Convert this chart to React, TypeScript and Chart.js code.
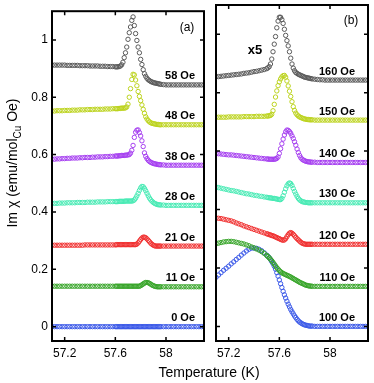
import React, { useEffect, useRef } from "react";
import { Chart, registerables } from "chart.js";

Chart.register(...registerables);

const FONT = "'Liberation Sans', Arial, Helvetica, sans-serif";

// Temperature grids (K)
const tempsA = [
  57.10, 57.12, 57.14, 57.16, 57.18, 57.20, 57.22, 57.24, 57.26, 57.28, 57.30, 57.32, 57.34,
  57.36, 57.38, 57.40, 57.42, 57.44, 57.46, 57.48, 57.50, 57.52, 57.54, 57.56, 57.58, 57.60,
  57.61, 57.62, 57.63, 57.64, 57.65, 57.66, 57.67, 57.68, 57.69, 57.70, 57.71, 57.72,
  57.73, 57.74, 57.75, 57.76, 57.77, 57.78, 57.79, 57.80, 57.81, 57.82, 57.83, 57.84,
  57.85, 57.86, 57.87, 57.88, 57.89, 57.90, 57.91, 57.92, 57.93, 57.94, 57.95,
  57.96, 57.98, 58.00, 58.02, 58.04, 58.06, 58.08, 58.10, 58.12, 58.14, 58.16, 58.18,
  58.20, 58.22, 58.24, 58.26, 58.28, 58.30,
];

const tempsB = [
  57.10, 57.12, 57.14, 57.16, 57.18, 57.20, 57.22, 57.24, 57.26, 57.28, 57.30,
  57.32, 57.34, 57.36, 57.38, 57.40, 57.42, 57.44, 57.46, 57.48, 57.50,
  57.51, 57.52, 57.53, 57.54, 57.55, 57.56, 57.57, 57.58, 57.59, 57.60, 57.61, 57.62,
  57.63, 57.64, 57.65, 57.66, 57.67, 57.68, 57.69, 57.70, 57.71, 57.72, 57.73, 57.74,
  57.75, 57.76, 57.77, 57.78, 57.79, 57.80, 57.81, 57.82, 57.83, 57.84, 57.85,
  57.86, 57.88, 57.90, 57.92, 57.94, 57.96, 57.98, 58.00, 58.02, 58.04, 58.06, 58.08,
  58.10, 58.12, 58.14, 58.16, 58.18, 58.20, 58.22, 58.24, 58.26, 58.28, 58.30,
];

// Panel (a) series: Im chi (emu/mol_Cu Oe)
const chiA58 = [
  0.912, 0.912, 0.912, 0.912, 0.912, 0.912, 0.911, 0.911, 0.911, 0.911, 0.911, 0.910, 0.910,
  0.910, 0.910, 0.909, 0.909, 0.909, 0.909, 0.908, 0.908, 0.908, 0.907, 0.907, 0.907, 0.906,
  0.906, 0.906, 0.907, 0.909, 0.913, 0.922, 0.938, 0.955, 0.975, 1.002, 1.025, 1.045,
  1.068, 1.080, 1.050, 1.022, 0.998, 0.975, 0.955, 0.932, 0.914, 0.896, 0.882, 0.873,
  0.866, 0.861, 0.858, 0.855, 0.853, 0.851, 0.850, 0.849, 0.848, 0.847, 0.846,
  0.845, 0.844, 0.843, 0.843, 0.843, 0.843, 0.843, 0.843, 0.843, 0.843, 0.843, 0.843,
  0.843, 0.843, 0.843, 0.843, 0.843, 0.843,
];
const chiA48 = [
  0.752, 0.752, 0.753, 0.753, 0.753, 0.754, 0.754, 0.754, 0.755, 0.755, 0.755, 0.756, 0.756,
  0.756, 0.757, 0.757, 0.757, 0.758, 0.758, 0.758, 0.758, 0.759, 0.759, 0.759, 0.760, 0.760,
  0.760, 0.760, 0.761, 0.761, 0.762, 0.762, 0.762, 0.763, 0.766, 0.776, 0.800, 0.830,
  0.862, 0.880, 0.878, 0.860, 0.840, 0.820, 0.803, 0.788, 0.773, 0.758, 0.744, 0.732,
  0.724, 0.718, 0.714, 0.711, 0.709, 0.708, 0.707, 0.706, 0.705, 0.705, 0.704,
  0.704, 0.704, 0.704, 0.704, 0.704, 0.704, 0.704, 0.704, 0.704, 0.704, 0.704, 0.704,
  0.704, 0.704, 0.704, 0.704, 0.704, 0.704,
];
const chiA38 = [
  0.584, 0.584, 0.585, 0.585, 0.586, 0.586, 0.587, 0.587, 0.588, 0.588, 0.588, 0.589, 0.589,
  0.590, 0.590, 0.590, 0.591, 0.591, 0.592, 0.592, 0.592, 0.593, 0.593, 0.594, 0.594, 0.595,
  0.595, 0.595, 0.596, 0.596, 0.597, 0.597, 0.597, 0.598, 0.598, 0.599, 0.600, 0.605,
  0.615, 0.632, 0.660, 0.678, 0.685, 0.686, 0.677, 0.665, 0.648, 0.628, 0.606, 0.594,
  0.586, 0.580, 0.576, 0.573, 0.571, 0.569, 0.568, 0.567, 0.566, 0.565, 0.565,
  0.564, 0.564, 0.563, 0.563, 0.563, 0.563, 0.563, 0.563, 0.563, 0.563, 0.563, 0.563,
  0.563, 0.563, 0.563, 0.563, 0.563, 0.563,
];
const chiA28 = [
  0.430, 0.430, 0.430, 0.431, 0.431, 0.431, 0.432, 0.432, 0.432, 0.432, 0.433, 0.433, 0.433,
  0.433, 0.434, 0.434, 0.434, 0.434, 0.435, 0.435, 0.435, 0.435, 0.436, 0.436, 0.436, 0.436,
  0.436, 0.436, 0.437, 0.437, 0.437, 0.437, 0.437, 0.438, 0.438, 0.438, 0.438, 0.438,
  0.438, 0.439, 0.442, 0.448, 0.456, 0.465, 0.475, 0.484, 0.489, 0.488, 0.482, 0.474,
  0.465, 0.456, 0.448, 0.442, 0.437, 0.433, 0.430, 0.428, 0.426, 0.425, 0.425,
  0.424, 0.424, 0.423, 0.423, 0.423, 0.423, 0.423, 0.423, 0.423, 0.423, 0.423, 0.423,
  0.423, 0.423, 0.423, 0.423, 0.423, 0.423,
];
const chiA21 = [
  0.284, 0.284, 0.284, 0.284, 0.284, 0.284, 0.284, 0.284, 0.284, 0.284, 0.284, 0.284, 0.284,
  0.285, 0.285, 0.285, 0.285, 0.285, 0.285, 0.285, 0.285, 0.285, 0.285, 0.285, 0.285, 0.285,
  0.286, 0.286, 0.286, 0.286, 0.286, 0.286, 0.286, 0.286, 0.286, 0.286, 0.286, 0.286,
  0.286, 0.286, 0.286, 0.286, 0.288, 0.292, 0.298, 0.304, 0.309, 0.312, 0.312, 0.310,
  0.306, 0.301, 0.296, 0.291, 0.287, 0.284, 0.282, 0.281, 0.281, 0.281, 0.281,
  0.281, 0.281, 0.281, 0.281, 0.281, 0.281, 0.281, 0.281, 0.281, 0.281, 0.281, 0.281,
  0.281, 0.281, 0.281, 0.281, 0.281, 0.281,
];
const chiA11 = [
  0.141, 0.141, 0.141, 0.141, 0.141, 0.141, 0.141, 0.141, 0.141, 0.141, 0.141, 0.141, 0.141,
  0.141, 0.141, 0.141, 0.141, 0.141, 0.141, 0.141, 0.141, 0.141, 0.141, 0.141, 0.141, 0.141,
  0.141, 0.141, 0.141, 0.141, 0.141, 0.141, 0.141, 0.141, 0.141, 0.141, 0.141, 0.141,
  0.141, 0.141, 0.141, 0.141, 0.141, 0.141, 0.141, 0.143, 0.146, 0.149, 0.152, 0.154,
  0.154, 0.153, 0.151, 0.148, 0.145, 0.143, 0.141, 0.140, 0.139, 0.139, 0.139,
  0.139, 0.139, 0.139, 0.139, 0.139, 0.139, 0.139, 0.139, 0.139, 0.139, 0.139, 0.139,
  0.139, 0.139, 0.139, 0.139, 0.139, 0.139,
];
const chiA0 = [
  0, 0, 0, 0, 0, 0, 0, 0, 0, 0, 0, 0, 0,
  0, 0, 0, 0, 0, 0, 0, 0, 0, 0, 0, 0, 0,
  0, 0, 0, 0, 0, 0, 0, 0, 0, 0, 0, 0,
  0, 0, 0, 0, 0, 0, 0, 0, 0, 0, 0, 0,
  0, 0, 0, 0, 0, 0, 0, 0, 0, 0, 0,
  0, 0, 0, 0, 0, 0, 0, 0, 0, 0, 0, 0,
  0, 0, 0, 0, 0, 0,
];

// Panel (b) series
const chiB160 = [
  0.854, 0.855, 0.856, 0.857, 0.858, 0.859, 0.860, 0.861, 0.862, 0.863, 0.864,
  0.866, 0.867, 0.868, 0.870, 0.872, 0.873, 0.875, 0.877, 0.879, 0.882,
  0.885, 0.889, 0.898, 0.915, 0.940, 0.966, 0.992, 1.022, 1.045, 1.058, 1.058, 1.050,
  1.037, 1.017, 0.996, 0.978, 0.960, 0.940, 0.918, 0.898, 0.884, 0.875, 0.869, 0.866,
  0.863, 0.861, 0.859, 0.857, 0.855, 0.853, 0.852, 0.851, 0.850, 0.849, 0.848,
  0.847, 0.846, 0.845, 0.844, 0.844, 0.843, 0.843, 0.843, 0.843, 0.843, 0.843, 0.843,
  0.843, 0.843, 0.843, 0.843, 0.843, 0.843, 0.843, 0.843, 0.843, 0.843, 0.843,
];
const chiB150 = [
  0.716, 0.716, 0.716, 0.716, 0.716, 0.717, 0.717, 0.717, 0.717, 0.717, 0.717,
  0.718, 0.718, 0.718, 0.718, 0.718, 0.719, 0.719, 0.719, 0.719, 0.720,
  0.720, 0.721, 0.722, 0.726, 0.738, 0.760, 0.785, 0.806, 0.824, 0.837, 0.847, 0.854,
  0.858, 0.859, 0.853, 0.840, 0.823, 0.805, 0.787, 0.769, 0.752, 0.739, 0.730, 0.724,
  0.720, 0.717, 0.715, 0.713, 0.711, 0.710, 0.709, 0.708, 0.708, 0.707, 0.707,
  0.707, 0.706, 0.706, 0.706, 0.706, 0.706, 0.706, 0.706, 0.706, 0.706, 0.706, 0.706,
  0.706, 0.706, 0.706, 0.706, 0.706, 0.706, 0.706, 0.706, 0.706, 0.706, 0.706,
];
const chiB140 = [
  0.592, 0.591, 0.590, 0.589, 0.588, 0.587, 0.587, 0.586, 0.585, 0.584, 0.583,
  0.582, 0.581, 0.580, 0.579, 0.578, 0.577, 0.576, 0.575, 0.574, 0.573,
  0.573, 0.572, 0.572, 0.572, 0.572, 0.572, 0.573, 0.575, 0.580, 0.592, 0.608, 0.625,
  0.641, 0.655, 0.666, 0.672, 0.671, 0.667, 0.661, 0.652, 0.643, 0.632, 0.620, 0.607,
  0.595, 0.585, 0.577, 0.572, 0.569, 0.567, 0.565, 0.564, 0.563, 0.563, 0.562,
  0.562, 0.562, 0.561, 0.561, 0.561, 0.561, 0.561, 0.561, 0.561, 0.561, 0.561, 0.561,
  0.561, 0.561, 0.561, 0.561, 0.561, 0.561, 0.561, 0.561, 0.561, 0.561, 0.561,
];
const chiB130 = [
  0.477, 0.475, 0.473, 0.471, 0.469, 0.467, 0.465, 0.464, 0.462, 0.460, 0.458,
  0.456, 0.454, 0.453, 0.451, 0.449, 0.448, 0.446, 0.445, 0.443, 0.442,
  0.441, 0.440, 0.440, 0.439, 0.438, 0.438, 0.437, 0.436, 0.435, 0.434, 0.434, 0.438,
  0.447, 0.459, 0.471, 0.481, 0.488, 0.491, 0.489, 0.482, 0.472, 0.462, 0.453, 0.445,
  0.438, 0.433, 0.430, 0.427, 0.426, 0.425, 0.424, 0.424, 0.423, 0.423, 0.423,
  0.423, 0.423, 0.423, 0.423, 0.423, 0.423, 0.423, 0.423, 0.423, 0.423, 0.423, 0.423,
  0.423, 0.423, 0.423, 0.423, 0.423, 0.423, 0.423, 0.423, 0.423, 0.423, 0.423,
];
const chiB120 = [
  0.371, 0.370, 0.369, 0.367, 0.365, 0.363, 0.361, 0.358, 0.354, 0.351, 0.348,
  0.344, 0.341, 0.338, 0.335, 0.332, 0.329, 0.326, 0.323, 0.320, 0.317,
  0.316, 0.314, 0.313, 0.311, 0.310, 0.308, 0.306, 0.304, 0.302, 0.300, 0.298, 0.296,
  0.295, 0.296, 0.300, 0.307, 0.314, 0.319, 0.321, 0.319, 0.315, 0.310, 0.305, 0.300,
  0.296, 0.292, 0.288, 0.285, 0.283, 0.282, 0.281, 0.281, 0.281, 0.281, 0.281,
  0.281, 0.281, 0.281, 0.281, 0.281, 0.281, 0.281, 0.281, 0.281, 0.281, 0.281, 0.281,
  0.281, 0.281, 0.281, 0.281, 0.281, 0.281, 0.281, 0.281, 0.281, 0.281, 0.281,
];
const chiB110 = [
  0.283, 0.285, 0.287, 0.289, 0.290, 0.291, 0.291, 0.290, 0.288, 0.286, 0.284,
  0.282, 0.279, 0.276, 0.272, 0.269, 0.265, 0.261, 0.256, 0.250, 0.243,
  0.239, 0.235, 0.230, 0.225, 0.219, 0.213, 0.207, 0.201, 0.196, 0.191, 0.187, 0.184,
  0.181, 0.179, 0.177, 0.175, 0.173, 0.171, 0.169, 0.166, 0.164, 0.161, 0.159, 0.156,
  0.154, 0.151, 0.149, 0.147, 0.145, 0.143, 0.141, 0.140, 0.139, 0.138, 0.138,
  0.137, 0.137, 0.137, 0.137, 0.137, 0.137, 0.137, 0.137, 0.137, 0.137, 0.137, 0.137,
  0.137, 0.137, 0.137, 0.137, 0.137, 0.137, 0.137, 0.137, 0.137, 0.137, 0.137,
];
const chiB100 = [
  0.168, 0.176, 0.184, 0.192, 0.199, 0.206, 0.214, 0.221, 0.229, 0.236, 0.244,
  0.251, 0.258, 0.264, 0.268, 0.268, 0.267, 0.264, 0.259, 0.252, 0.244,
  0.240, 0.235, 0.229, 0.222, 0.215, 0.206, 0.196, 0.184, 0.172, 0.159, 0.146, 0.133,
  0.120, 0.108, 0.097, 0.086, 0.076, 0.067, 0.058, 0.050, 0.043, 0.036, 0.030, 0.024,
  0.019, 0.015, 0.012, 0.009, 0.007, 0.005, 0.004, 0.003, 0.002, 0.001, 0.001,
  0.001, 0, 0, 0, 0, 0, 0, 0, 0, 0, 0, 0,
  0, 0, 0, 0, 0, 0, 0, 0, 0, 0, 0,
];

const labelsA = ["58 Oe", "48 Oe", "38 Oe", "28 Oe", "21 Oe", "11 Oe", "0 Oe"];
const labelsB = ["160 Oe", "150 Oe", "140 Oe", "130 Oe", "120 Oe", "110 Oe", "100 Oe"];
const seriesA = [chiA58, chiA48, chiA38, chiA28, chiA21, chiA11, chiA0];
const seriesB = [chiB160, chiB150, chiB140, chiB130, chiB120, chiB110, chiB100];
const colors = ["#5a5a5a", "#bcd31e", "#a640f0", "#48eab4", "#f03030", "#38a52a", "#3c5ae8"];

const xTickValues = [57.2, 57.6, 58];
const yTickValues = [0, 0.2, 0.4, 0.6, 0.8, 1];

const frameTicks = {
  id: "frameTicks",
  afterDatasetsDraw(chart: any) {
    const { ctx, chartArea: a, scales } = chart;
    const xs = scales.x;
    const ys = scales.y;
    const L = 4;
    ctx.save();
    ctx.strokeStyle = "#000";
    ctx.lineWidth = 1.5;
    ctx.beginPath();
    for (const v of xTickValues) {
      const px = xs.getPixelForValue(v);
      ctx.moveTo(px, a.bottom);
      ctx.lineTo(px, a.bottom - L);
      ctx.moveTo(px, a.top);
      ctx.lineTo(px, a.top + L);
    }
    for (const v of yTickValues) {
      const py = ys.getPixelForValue(v);
      ctx.moveTo(a.left, py);
      ctx.lineTo(a.left + L, py);
      ctx.moveTo(a.right, py);
      ctx.lineTo(a.right - L, py);
    }
    ctx.stroke();
    ctx.lineWidth = 2;
    ctx.strokeRect(a.left, a.top, a.right - a.left, a.bottom - a.top);
    ctx.restore();
  },
};

function makeTextPlugin(panel: "a" | "b", labels: string[], series: number[][]) {
  return {
    id: "texts" + panel,
    afterDraw(chart: any) {
      const { ctx, chartArea: a, scales } = chart;
      const ys = scales.y;
      ctx.save();
      ctx.fillStyle = "#000";
      // series labels
      ctx.font = `bold 11px ${FONT}`;
      ctx.textAlign = "right";
      ctx.textBaseline = "middle";
      const rx = panel === "a" ? a.right - 9 : a.right - 13;
      labels.forEach((lab, i) => {
        const s = series[i];
        const py = ys.getPixelForValue(s[s.length - 1]) - 8.5;
        ctx.fillText(lab, rx, py);
      });
      // panel tag
      ctx.font = `12px ${FONT}`;
      ctx.textAlign = "center";
      ctx.fillText(panel === "a" ? "(a)" : "(b)", a.right - 17, a.top + 16);
      if (panel === "b") {
        ctx.font = `bold 13px ${FONT}`;
        ctx.fillText("x5", a.left + 39, a.top + 45);
      } else {
        // x-axis title (centred between the two panels)
        ctx.font = `14px ${FONT}`;
        ctx.textAlign = "center";
        ctx.fillText("Temperature (K)", 209, 373);
        // y-axis title with subscript
        ctx.translate(17, 163);
        ctx.rotate(-Math.PI / 2);
        const p1 = "Im \u03c7 (emu/mol";
        const p2 = "Cu";
        const p3 = " Oe)";
        const main = `14px ${FONT}`;
        const sub = `10px ${FONT}`;
        ctx.font = main;
        const w1 = ctx.measureText(p1).width;
        const w3 = ctx.measureText(p3).width;
        ctx.font = sub;
        const w2 = ctx.measureText(p2).width;
        const x0 = -(w1 + w2 + w3) / 2;
        ctx.textAlign = "left";
        ctx.textBaseline = "alphabetic";
        ctx.font = main;
        ctx.fillText(p1, x0, 0);
        ctx.font = sub;
        ctx.fillText(p2, x0 + w1, 4);
        ctx.font = main;
        ctx.fillText(p3, x0 + w1 + w2, 0);
      }
      ctx.restore();
    },
  };
}

function makeConfig(panel: "a" | "b", temps: number[], series: number[][], labels: string[]) {
  const isA = panel === "a";
  return {
    type: "scatter" as const,
    data: {
      datasets: series.map((ys, i) => ({
        label: labels[i],
        data: temps.map((t, j) => ({ x: t, y: ys[j] })),
        borderColor: colors[i],
        backgroundColor: "rgba(0,0,0,0)",
        pointRadius: 2.2,
        pointBorderWidth: 1,
        showLine: false,
      })),
    },
    options: {
      animation: false as const,
      responsive: false,
      layout: {
        padding: isA
          ? { left: 0, right: 170, top: 3, bottom: 0 }
          : { left: 216, right: 6, top: 3, bottom: 0 },
      },
      plugins: { legend: { display: false }, tooltip: { enabled: false } },
      scales: {
        x: {
          type: "linear" as const,
          min: 57.1,
          max: 58.3,
          afterBuildTicks: (axis: any) => {
            axis.ticks = xTickValues.map((v) => ({ value: v }));
          },
          afterFit: (axis: any) => {
            axis.height = 42;
          },
          ticks: {
            color: "#000",
            font: { family: FONT, size: 12 },
            padding: 5,
            maxRotation: 0,
            callback: (v: any) => String(v),
          },
          grid: { display: false, drawTicks: false },
          border: { display: false },
        },
        y: {
          type: "linear" as const,
          display: isA,
          min: -0.05,
          max: 1.1,
          afterBuildTicks: (axis: any) => {
            axis.ticks = yTickValues.map((v) => ({ value: v }));
          },
          afterFit: (axis: any) => {
            axis.width = isA ? 52 : 0;
          },
          ticks: {
            color: "#000",
            font: { family: FONT, size: 12 },
            padding: 4,
            callback: (v: any) => String(v),
          },
          grid: { display: false, drawTicks: false },
          border: { display: false },
        },
      },
    },
    plugins: [frameTicks, makeTextPlugin(panel, labels, series)],
  };
}

export default function App() {
  const refA = useRef<HTMLCanvasElement>(null);
  const refB = useRef<HTMLCanvasElement>(null);
  useEffect(() => {
    const ca = new Chart(refA.current as HTMLCanvasElement, makeConfig("a", tempsA, seriesA, labelsA) as any);
    const cb = new Chart(refB.current as HTMLCanvasElement, makeConfig("b", tempsB, seriesB, labelsB) as any);
    return () => {
      ca.destroy();
      cb.destroy();
    };
  }, []);
  return (
    <div style={{ position: "absolute", left: 0, top: 0, width: 374, height: 383, background: "#fff" }}>
      <canvas ref={refA} width={374} height={383} style={{ position: "absolute", left: 0, top: 0 }} />
      <canvas ref={refB} width={374} height={383} style={{ position: "absolute", left: 0, top: 0 }} />
    </div>
  );
}
